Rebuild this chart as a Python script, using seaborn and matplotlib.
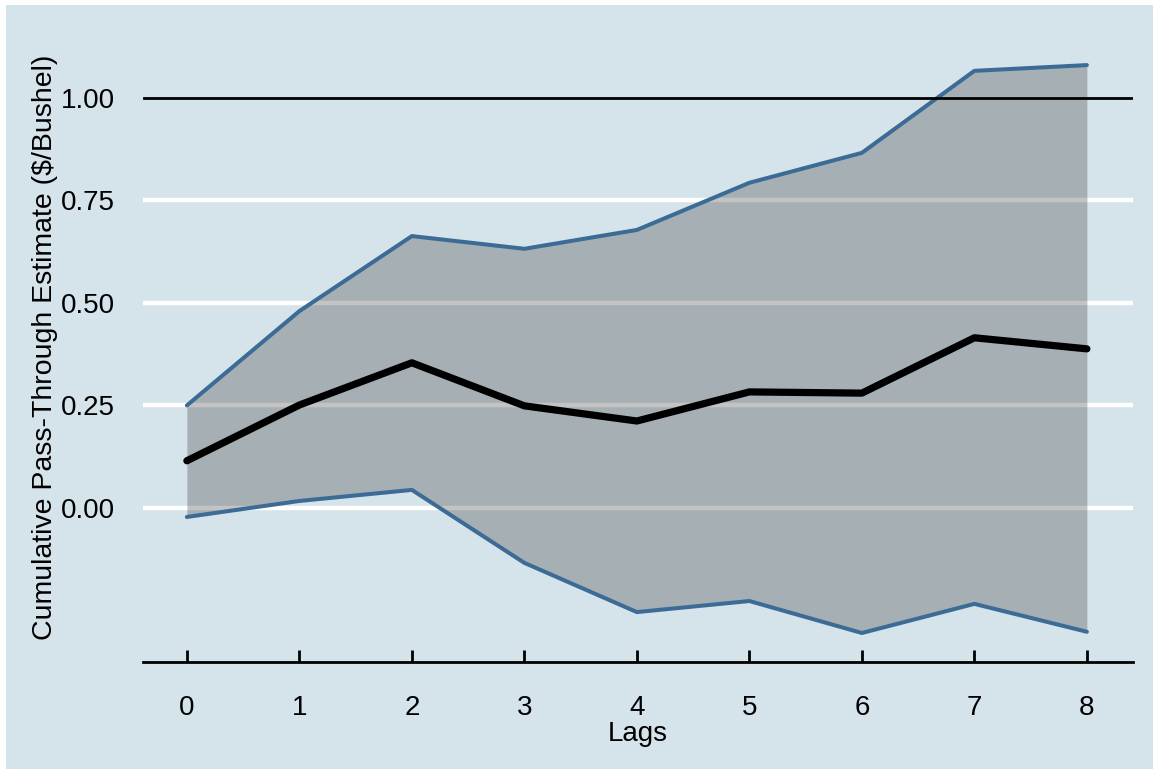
import matplotlib
matplotlib.use("Agg")
import matplotlib.pyplot as plt
import seaborn as sns
import pandas as pd
from matplotlib.patches import Rectangle

# Cumulative pass-through estimates by lag, with confidence bounds
lags = [0, 1, 2, 3, 4, 5, 6, 7, 8]
estimate = [0.115, 0.251, 0.354, 0.249, 0.212, 0.283, 0.280, 0.415, 0.388]
upper = [0.250, 0.480, 0.663, 0.632, 0.678, 0.793, 0.866, 1.066, 1.080]
lower = [-0.022, 0.017, 0.044, -0.134, -0.254, -0.227, -0.305, -0.234, -0.302]
y_ticks = [0.00, 0.25, 0.50, 0.75, 1.00]
y_tick_labels = ["0.00", "0.25", "0.50", "0.75", "1.00"]

df = pd.DataFrame({"lag": lags, "estimate": estimate, "upper": upper, "lower": lower})

BG = "#d5e3ea"
BAND = "#3c6b95"

sns.set_theme(style="white")
plt.rcParams["font.family"] = ["Liberation Sans", "DejaVu Sans"]

fig = plt.figure(figsize=(11.53, 7.69), dpi=100, facecolor="white")
# blue panel behind everything (white strip at top and left edge)
fig.patches.append(Rectangle((6 / 1153, -0.01), 1.02, 1.01 - 5 / 769,
                             transform=fig.transFigure, facecolor=BG,
                             edgecolor="none", zorder=-10))
ax = fig.add_axes([143 / 1153, 0.139, 990 / 1153, 0.803])
ax.patch.set_alpha(0)

ax.set_xlim(-0.39, 8.41)
ax.set_ylim(-0.376, 1.13)

# white horizontal grid and reference line at 1
for v in y_ticks[:-1]:
    ax.axhline(v, color="white", lw=3.2, zorder=1)
ax.axhline(1.0, color="black", lw=2.0, zorder=4)

ax.fill_between(df["lag"], df["lower"], df["upper"], color="#3a3a3a",
                alpha=0.3, linewidth=0, zorder=2)
sns.lineplot(data=df, x="lag", y="upper", color=BAND, lw=2.9, ax=ax, zorder=3)
sns.lineplot(data=df, x="lag", y="lower", color=BAND, lw=2.9, ax=ax, zorder=3)
sns.lineplot(data=df, x="lag", y="estimate", color="black", lw=5.2, ax=ax, zorder=5)

for side in ["top", "right", "left"]:
    ax.spines[side].set_visible(False)
ax.spines["bottom"].set_color("black")
ax.spines["bottom"].set_linewidth(2.0)

ax.set_xticks(lags)
ax.set_xticklabels([str(l) for l in lags])
ax.tick_params(axis="x", direction="in", length=9, width=2.0, color="black",
               pad=24, labelsize=20, labelcolor="black", bottom=True)
ax.set_yticks(y_ticks)
ax.set_yticklabels(y_tick_labels)
ax.tick_params(axis="y", length=0, pad=20, labelsize=20, labelcolor="black")

ax.set_xlabel("Lags", fontsize=20, color="black", labelpad=0)
ax.set_ylabel("Cumulative Pass-Through Estimate ($/Bushel)", fontsize=20.5,
              color="black", va="center")
ax.yaxis.set_label_coords(-0.099, 0.509)

fig.savefig("out.png", dpi=100, facecolor="white")
